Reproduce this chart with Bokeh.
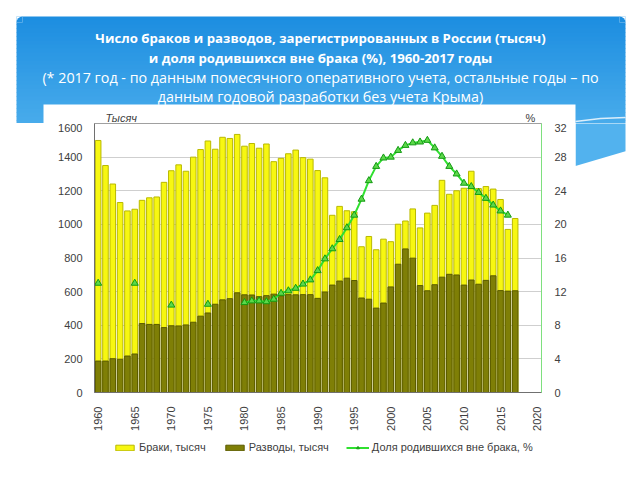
import math
from bokeh.plotting import figure
from bokeh.layouts import column, row
from bokeh.models import (ColumnDataSource, Range1d, LinearAxis, FixedTicker,
                          Legend, LegendItem)
from bokeh.core.properties import value
from bokeh.embed import file_html
from bokeh.resources import INLINE

# ---------------- data ----------------
years = list(range(1960, 2018))
marriages = [1499, 1350, 1240, 1130, 1080, 1090, 1143, 1158, 1163, 1250,
             1319, 1354, 1316, 1400, 1445, 1496, 1447, 1518, 1511, 1535,
             1465, 1481, 1453, 1478, 1373, 1393, 1420, 1442, 1397, 1388,
             1320, 1277, 1054, 1107, 1081, 1075, 867, 928, 849, 912,
             897, 1001, 1020, 1092, 979, 1067, 1113, 1262, 1179, 1200,
             1215, 1316, 1213, 1225, 1210, 1148, 970, 1035]
divorces = [187, 187, 201, 198, 217, 229, 410, 405, 405, 386,
            397, 396, 402, 418, 454, 473, 525, 551, 558, 593,
            581, 580, 570, 576, 585, 575, 582, 581, 582, 582,
            560, 598, 639, 663, 680, 666, 562, 555, 502, 532,
            628, 763, 854, 799, 636, 605, 641, 686, 703, 699,
            639, 669, 644, 667, 694, 606, 603, 605]
pct_years = [1960, 1965, 1970, 1975] + list(range(1980, 2017))
pct_values = [13.0, 13.0, 10.4, 10.5,
              10.7, 10.9, 10.9, 10.8, 11.1, 11.8, 12.1, 12.4, 12.9, 13.4,
              14.5, 15.9, 17.1, 18.2, 19.6, 21.1, 23.0, 25.2, 26.9, 27.9,
              28.0, 28.8, 29.4, 29.7, 29.8, 30.0, 29.1, 28.1, 26.9, 26.0,
              24.9, 24.5, 23.8, 23.1, 22.3, 21.6, 21.1]
line_years = pct_years[4:]
line_values = pct_values[4:]

x_ticks = list(range(1960, 2021, 5))
left_ticks = list(range(0, 1601, 200))
right_ticks = list(range(0, 33, 4))

title_bold = [
    "Число браков и разводов, зарегистрированных в России (тысяч)",
    "и доля родившихся вне брака (%), 1960-2017 годы",
]
title_normal = [
    "(* 2017 год - по данным помесячного оперативного учета, остальные годы – по",
    "данным годовой разработки без учета Крыма)",
]
legend_labels = ["Браки, тысяч", "Разводы, тысяч", "Доля родившихся вне брака, %"]
left_unit = "Тысяч"
right_unit = "%"

# ---------------- colours / decoration helpers ----------------
YELLOW, YELLOW_LINE = "#f7f711", "#b9b900"
OLIVE, OLIVE_LINE = "#7f7f06", "#5a5a00"
GREEN_LINE, GREEN_FILL, GREEN_EDGE = "#30e030", "#5cd84a", "#129a12"
c_top = (28, 141, 224)
c_bot = (92, 185, 240)
TOP_H = 123      # height of the banner strip
MAIN_BOTTOM = 433


def col(Y):
    t = min(max((Y - 16) / (170 - 16), 0), 1)
    return "#%02x%02x%02x" % tuple(int(round(a + (b - a) * t)) for a, b in zip(c_top, c_bot))


def bare(fig):
    fig.outline_line_color = None
    fig.background_fill_color = "white"
    fig.border_fill_color = "white"
    return fig


# ---------------- top: banner + titles ----------------
top = bare(figure(width=640, height=TOP_H, x_range=Range1d(0, 640), y_range=Range1d(TOP_H, 0),
                  min_border=0, toolbar_location=None, output_backend="svg",
                  x_axis_type=None, y_axis_type=None, title=None))
ys = list(range(16, TOP_H, 4))
top.quad(left=16, right=625, top=ys, bottom=[y + 4.6 for y in ys],
         fill_color=[col(y + 2) for y in ys], line_color=None)
# rounded top corners
top.quad(left=[16, 619], right=[22, 625], top=16, bottom=22, fill_color="white", line_color=None)
top.wedge(x=[22, 619], y=[22, 22], radius=6, start_angle=[math.pi / 2, 0],
          end_angle=[math.pi, math.pi / 2], direction="anticlock",
          fill_color=col(19), line_color=None)
top.quad(left=43, right=575, top=104, bottom=TOP_H + 1, fill_color="white", line_color=None)
top.line([575, 600, 625], [121, 118, 117], line_color="white", line_alpha=0.8, line_width=1.5)
top.text(x=[320, 320], y=[37, 57], text=title_bold, text_font=value("Open Sans"),
         text_font_size="13.2px", text_font_style="bold", text_color="white",
         text_align="center", text_baseline="middle")
top.text(x=[320, 320], y=[77, 96], text=title_normal, text_font=value("Open Sans"),
         text_font_size="14.3px", text_color="white",
         text_align="center", text_baseline="middle")
top.text(x=[105], y=[117.5], text=[left_unit], text_font=value("Liberation Sans"),
         text_font_size="11px", text_font_style="italic", text_color="#404040",
         text_align="left", text_baseline="middle")
top.text(x=[530], y=[117.5], text=[right_unit], text_font=value("Liberation Sans"),
         text_font_size="11px", text_color="#404040",
         text_align="center", text_baseline="middle")

# ---------------- main chart ----------------
MAIN_H = MAIN_BOTTOM - TOP_H
p = figure(width=575, height=MAIN_H, output_backend="svg", toolbar_location=None, title=None,
           x_range=Range1d(1959.5, 2020.6), y_range=Range1d(0, 1600),
           min_border_left=94, min_border_right=34, min_border_top=0,
           min_border_bottom=40)
p.extra_y_ranges = {"pct": Range1d(0, 32)}
p.border_fill_color = "white"
p.background_fill_color = "white"
p.outline_line_color = "#a0a0a0"

src = ColumnDataSource(dict(year=years, marr=marriages, div=divorces))
r_marr = p.vbar(x="year", top="marr", width=0.76, source=src,
                fill_color=YELLOW, line_color=YELLOW_LINE, line_width=1)
r_div = p.vbar(x="year", top="div", width=0.76, source=src,
               fill_color=OLIVE, line_color=OLIVE_LINE, line_width=1)

p.add_layout(LinearAxis(y_range_name="pct"), "right")
r_line = p.line(line_years, line_values, y_range_name="pct",
                line_color=GREEN_LINE, line_width=2)
r_pts = p.scatter(pct_years, pct_values, y_range_name="pct", marker="triangle",
                  size=7, fill_color=GREEN_FILL, line_color=GREEN_EDGE, line_width=1)

for ax in p.axis:
    ax.major_tick_line_color = None
    ax.minor_tick_line_color = None
    ax.major_label_text_font = "Liberation Sans"
    ax.major_label_text_font_size = "11px"
    ax.major_label_text_color = "#404040"

p.xaxis.ticker = FixedTicker(ticks=x_ticks)
p.xaxis.major_label_orientation = math.pi / 2
p.xaxis.major_label_standoff = 8
p.xaxis.axis_line_color = "#707070"

p.yaxis[0].ticker = FixedTicker(ticks=left_ticks)
p.yaxis[0].axis_line_color = "#707070"
p.yaxis[0].major_label_standoff = 6
p.yaxis[1].ticker = FixedTicker(ticks=right_ticks)
p.yaxis[1].axis_line_color = "#7ee07e"
p.yaxis[1].major_label_standoff = 7

p.xgrid.grid_line_color = None
p.ygrid.ticker = FixedTicker(ticks=left_ticks)
p.ygrid.grid_line_color = "#cfcfcf"

# ---------------- right strip of the banner ----------------
side = bare(figure(width=65, height=MAIN_H, x_range=Range1d(575, 640),
                   y_range=Range1d(MAIN_BOTTOM, TOP_H),
                   min_border=0, toolbar_location=None, output_backend="svg",
                   x_axis_type=None, y_axis_type=None, title=None))
side.patch([575, 625, 625, 575], [TOP_H - 1, TOP_H - 1, 155, 172],
           fill_color=col(146), line_color=None)

# ---------------- legend strip ----------------
LEG_H = 480 - MAIN_BOTTOM
leg = bare(figure(width=640, height=LEG_H, x_range=Range1d(0, 1), y_range=Range1d(0, 1),
                  min_border=0, toolbar_location=None, output_backend="svg",
                  x_axis_type=None, y_axis_type=None, title=None))
offscreen = ColumnDataSource(dict(x=[5.0], y=[5.0]))
l_marr = leg.vbar(x="x", top="y", width=0.5, source=offscreen,
                  fill_color=YELLOW, line_color=YELLOW_LINE, line_width=1)
l_div = leg.vbar(x="x", top="y", width=0.5, source=offscreen,
                 fill_color=OLIVE, line_color=OLIVE_LINE, line_width=1)
l_line = leg.line(x="x", y="y", source=offscreen, line_color=GREEN_LINE, line_width=2)
l_pts = leg.scatter(x="x", y="y", source=offscreen, marker="triangle", size=5,
                    fill_color=GREEN_FILL, line_color=GREEN_EDGE)
legend = Legend(items=[LegendItem(label=legend_labels[0], renderers=[l_marr]),
                       LegendItem(label=legend_labels[1], renderers=[l_div]),
                       LegendItem(label=legend_labels[2], renderers=[l_line, l_pts])],
                orientation="horizontal", location=(113, LEG_H - 20),
                background_fill_alpha=0, border_line_color=None,
                glyph_width=23, glyph_height=7, label_height=12,
                label_standoff=3, spacing=17, padding=2, margin=0,
                label_text_font="Liberation Sans", label_text_font_size="11px",
                label_text_color="#404040")
leg.add_layout(legend)

layout = column(top, row(p, side), leg)
open("out.html", "w").write(file_html(layout, INLINE))
